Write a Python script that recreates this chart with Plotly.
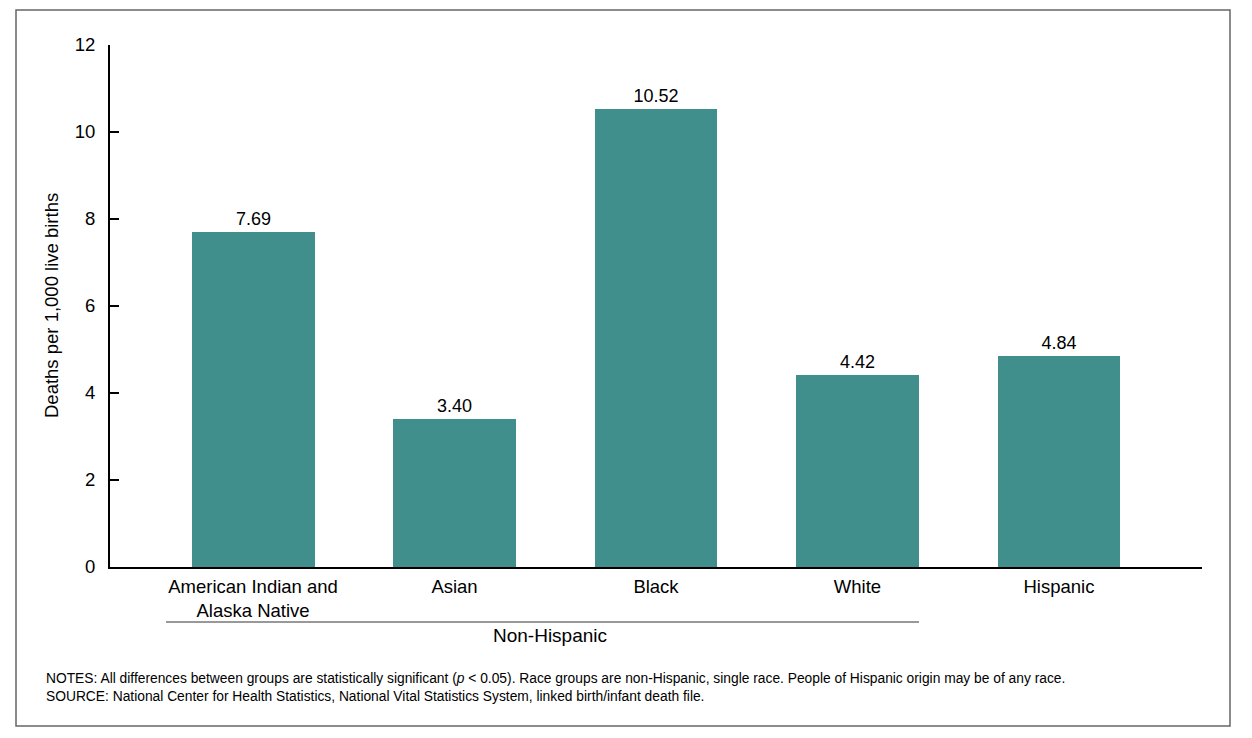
import plotly.graph_objects as go

categories = ["American Indian and<br>Alaska Native", "Asian", "Black", "White", "Hispanic"]
values = [7.69, 3.40, 10.52, 4.42, 4.84]
value_labels = ["7.69", "3.40", "10.52", "4.42", "4.84"]
y_ticks = [0, 2, 4, 6, 8, 10, 12]

FONT = "Liberation Sans, Arial, sans-serif"
BAR = "#418F8C"
FS = 18.5

# screen-pixel targets (page body adds an 8px offset)
OFF = 8
L, R, T, B = 110, 50, 45, 171
W, H = 1252, 738
pw, ph = W - L - R, H - T - B

def px(x):
    return (x - L) / pw

def py(y):
    return (H - B - y) / ph

fig = go.Figure(go.Bar(
    x=list(range(len(categories))), y=values,
    marker=dict(color=BAR, line=dict(width=0)),
    width=0.61,
    text=value_labels, textposition="outside", cliponaxis=False,
    textfont=dict(size=18, color="black", family=FONT),
))

fig.update_layout(
    width=W, height=H,
    margin=dict(l=L - OFF, r=R + OFF, t=T - OFF, b=B + OFF),
    paper_bgcolor="white", plot_bgcolor="white",
    font=dict(family=FONT, color="black", size=FS),
    showlegend=False,
    bargap=0,
    xaxis=dict(
        range=[-0.71, 4.71],
        tickvals=list(range(len(categories))), ticktext=categories,
        showline=True, linecolor="black", linewidth=2,
        showgrid=False, zeroline=False, ticks="",
        tickfont=dict(size=FS, family=FONT),
        ticklabelstandoff=2,
    ),
    yaxis=dict(
        range=[0, 12], tickvals=y_ticks,
        showline=True, linecolor="black", linewidth=2,
        showgrid=False, zeroline=False,
        ticks="inside", ticklen=9, tickwidth=2, tickcolor="black",
        tickfont=dict(size=FS, family=FONT),
        ticklabelstandoff=9,
    ),
    shapes=[
        dict(type="rect", xref="paper", yref="paper",
             x0=px(16), x1=px(1230), y0=py(726), y1=py(10),
             line=dict(color="#666666", width=1.5), fillcolor="rgba(0,0,0,0)", layer="below"),
        dict(type="line", xref="paper", yref="paper",
             x0=px(166), x1=px(919), y0=py(622), y1=py(622),
             line=dict(color="#333333", width=1)),
    ],
    annotations=[
        dict(text="Deaths per 1,000 live births", xref="paper", yref="paper",
             x=px(51), y=py(306), textangle=-90, showarrow=False,
             font=dict(size=FS, family=FONT), xanchor="center", yanchor="middle"),
        dict(text="Non-Hispanic", xref="paper", yref="paper",
             x=px(550), y=py(635), showarrow=False,
             font=dict(size=19, family=FONT), xanchor="center", yanchor="middle"),
        dict(text="NOTES: All differences between groups are statistically significant (<i>p</i> &lt; 0.05). Race groups are non-Hispanic, single race. People of Hispanic origin may be of any race.<br>SOURCE: National Center for Health Statistics, National Vital Statistics System, linked birth/infant death file.",
             xref="paper", yref="paper", x=px(44), y=py(669), showarrow=False,
             align="left", xanchor="left", yanchor="top",
             font=dict(size=13.8, family=FONT)),
    ],
)

fig.write_html("out.html")
